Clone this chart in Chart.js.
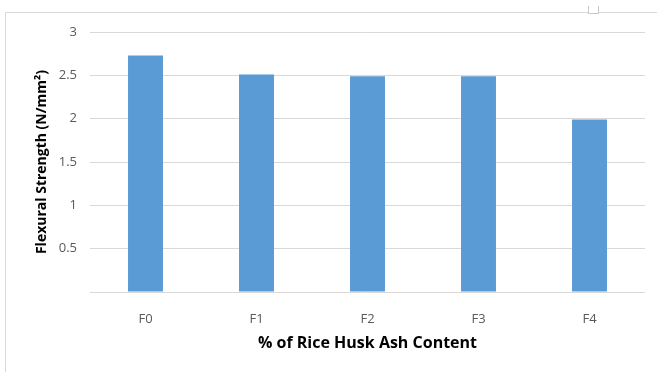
<!DOCTYPE html>
<html>
<head>
<meta charset="utf-8">
<script src="https://cdn.jsdelivr.net/npm/chart.js@4/dist/chart.umd.min.js"></script>
<style>
  html, body { margin: 0; padding: 0; background: #ffffff; overflow: hidden; }
  #wrap { position: relative; width: 657px; height: 372px; }
  #frame { position: absolute; left: 5px; top: 12px; width: 700px; height: 400px;
           border-left: 1px solid #d9d9d9; border-top: 1px solid #d9d9d9; }
  #handle { position: absolute; left: 588px; top: 6px; width: 9px; height: 7px;
            border: 1px solid #c8c8c8; border-top: none; background: #fff; }
  canvas { position: absolute; left: 0; top: 0; }
</style>
</head>
<body>
<div id="wrap">
  <div id="frame"></div>
  <div id="handle"></div>
  <canvas id="chart" width="657" height="372"></canvas>
</div>
<script>
// Mix designs and measured flexural strength
const categories = ['F0', 'F1', 'F2', 'F3', 'F4'];
const flexuralStrength = [2.73, 2.51, 2.49, 2.49, 1.99];
const yTicks = [0, 0.5, 1, 1.5, 2, 2.5, 3];

const fontFamily = "'Open Sans', 'Liberation Sans', sans-serif";

new Chart(document.getElementById('chart'), {
  type: 'bar',
  data: {
    labels: categories,
    datasets: [{
      data: flexuralStrength,
      backgroundColor: '#5b9bd5',
      borderWidth: 0,
      categoryPercentage: 1,
      barPercentage: 0.315
    }]
  },
  options: {
    responsive: false,
    animation: false,
    layout: { padding: { left: 0, top: 32, right: 12, bottom: 0 } },
    plugins: { legend: { display: false }, tooltip: { enabled: false } },
    scales: {
      x: {
        grid: { display: false },
        border: { display: false },
        ticks: { color: '#595959', font: { family: fontFamily, size: 13 }, padding: 11 },
        title: {
          display: true,
          text: '% of Rice Husk Ash Content',
          color: '#000000',
          font: { family: fontFamily, size: 16, weight: 'bold' },
          padding: { top: 0, bottom: 19 }
        },
        afterFit: (s) => { s.height = 80; }
      },
      y: {
        min: 0,
        max: 3,
        afterBuildTicks: (s) => { s.ticks = yTicks.map(v => ({ value: v })); },
        grid: { color: '#d9d9d9', lineWidth: 1, drawTicks: false },
        border: { display: false },
        ticks: {
          color: '#595959',
          font: { family: fontFamily, size: 13 },
          padding: 13,
          callback: (v) => (v === 0 ? '' : String(v))
        },
        title: {
          display: true,
          text: 'Flexural Strength (N/mm²)',
          color: '#000000',
          font: { family: fontFamily, size: 14, weight: 'bold' },
          padding: { top: 34, bottom: 0 }
        },
        afterFit: (s) => { s.width = 90; }
      }
    }
  }
});
</script>
</body>
</html>
